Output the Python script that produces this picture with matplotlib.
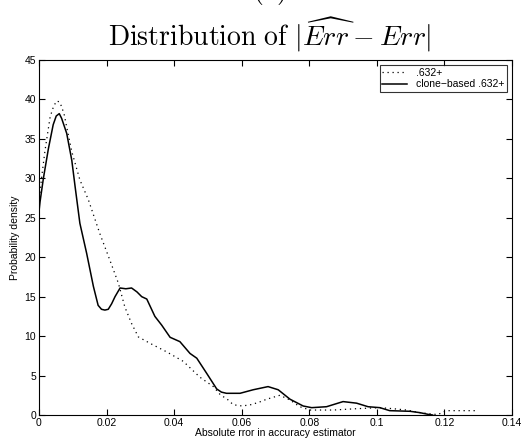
import matplotlib

matplotlib.use("Agg")

import matplotlib.pyplot as plt
import numpy as np

# .632+ estimator density (dotted)
x_632 = [0.0, 0.0008, 0.0018, 0.0033, 0.0043, 0.0052, 0.006, 0.0067, 0.0075, 0.0082,
         0.0097, 0.0121, 0.0146, 0.018, 0.021, 0.0235, 0.0254, 0.0274, 0.0294, 0.0328,
         0.0378, 0.0427, 0.0476, 0.0516, 0.0536, 0.056, 0.0575, 0.06, 0.0624, 0.065,
         0.0674, 0.0713, 0.0743, 0.0772, 0.0802, 0.0871, 0.094, 0.1009, 0.1048, 0.1088,
         0.1127, 0.1157, 0.118, 0.1206, 0.125, 0.1295]
y_632 = [26.9, 30.2, 33.6, 37.8, 39.1, 39.8, 39.7, 39.1, 38.0, 36.5,
         33.4, 29.8, 27.3, 23.0, 19.6, 16.7, 13.7, 11.6, 9.9, 9.1,
         8.0, 6.8, 4.8, 3.6, 2.6, 1.9, 1.3, 1.15, 1.27, 1.6,
         2.0, 2.5, 1.9, 1.05, 0.63, 0.63, 0.8, 0.93, 0.8, 0.63,
         0.3, 0.15, 0.05, 0.55, 0.55, 0.55]

# clone-based .632+ estimator density (solid)
x_clone = [0.0, 0.0003, 0.0013, 0.0028, 0.0042, 0.0051, 0.006, 0.0067, 0.0082, 0.0097,
           0.0107, 0.0121, 0.0141, 0.0161, 0.0175, 0.0185, 0.0195, 0.0205, 0.0215, 0.0225,
           0.024, 0.0257, 0.0274, 0.029, 0.0304, 0.0319, 0.0343, 0.0363, 0.0388, 0.0417,
           0.0447, 0.0467, 0.0496, 0.0526, 0.054, 0.0555, 0.0595, 0.0634, 0.0678, 0.0708,
           0.0743, 0.0782, 0.0807, 0.0851, 0.09, 0.094, 0.0974, 0.1009, 0.1038, 0.1098,
           0.1127, 0.1152, 0.1165]
y_clone = [25.8, 27.0, 30.0, 33.8, 36.8, 37.9, 38.2, 37.6, 35.7, 32.3,
           28.9, 24.3, 20.5, 16.3, 13.9, 13.4, 13.3, 13.4, 14.1, 15.0,
           16.1, 16.0, 16.1, 15.6, 15.0, 14.7, 12.5, 11.4, 9.85, 9.3,
           7.8, 7.2, 5.3, 3.3, 2.9, 2.75, 2.75, 3.2, 3.6, 3.2,
           2.0, 1.14, 0.93, 1.05, 1.7, 1.5, 1.05, 0.93, 0.55, 0.47,
           0.3, 0.08, 0.0]

x_ticks = [0, 0.02, 0.04, 0.06, 0.08, 0.1, 0.12, 0.14]
x_tick_labels = ["0", "0.02", "0.04", "0.06", "0.08", "0.1", "0.12", "0.14"]
y_ticks = [0, 5, 10, 15, 20, 25, 30, 35, 40, 45]

plt.rcParams["font.family"] = ["Liberation Sans", "DejaVu Sans"]
plt.rcParams["mathtext.fontset"] = "cm"

fig = plt.figure(figsize=(5.23, 4.41), dpi=100)
ax = fig.add_axes([39 / 523, 26 / 441, 473 / 523, 355 / 441])

ax.plot(x_632, y_632, color="black", linestyle=(0, (1, 3)), linewidth=0.9, label=".632+")
ax.plot(x_clone, y_clone, color="black", linewidth=1.1, label="clone\u2212based .632+")

ax.set_xlim(0, 0.14)
ax.set_ylim(0, 45)
ax.set_xticks(x_ticks)
ax.set_xticklabels(x_tick_labels)
ax.set_yticks(y_ticks)
ax.tick_params(direction="in", length=4, width=0.8, labelsize=7.5, top=True, right=True, pad=2)
for spine in ax.spines.values():
    spine.set_linewidth(0.8)

ax.set_xlabel("Absolute rror in accuracy estimator", fontsize=7.5, labelpad=0)
ax.set_ylabel("Probability density", fontsize=7.5, labelpad=3)

leg = ax.legend(loc="upper right", fontsize=7.5, frameon=True, fancybox=False,
                edgecolor="black", borderaxespad=0.5, handlelength=2.4,
                borderpad=0.25, labelspacing=0.15, handletextpad=0.8)
leg.get_frame().set_linewidth(0.8)

fig.text(0.516, 1.004, r"$\mathrm{(a)}$", fontsize=20, ha="center", va="baseline")
fig.text(0.516, 1 - 35 / 441, r"$\mathrm{Distribution\ of}\ |\widehat{Err} - Err|$",
         fontsize=20, ha="center", va="center")

fig.savefig("out.png", dpi=100)
